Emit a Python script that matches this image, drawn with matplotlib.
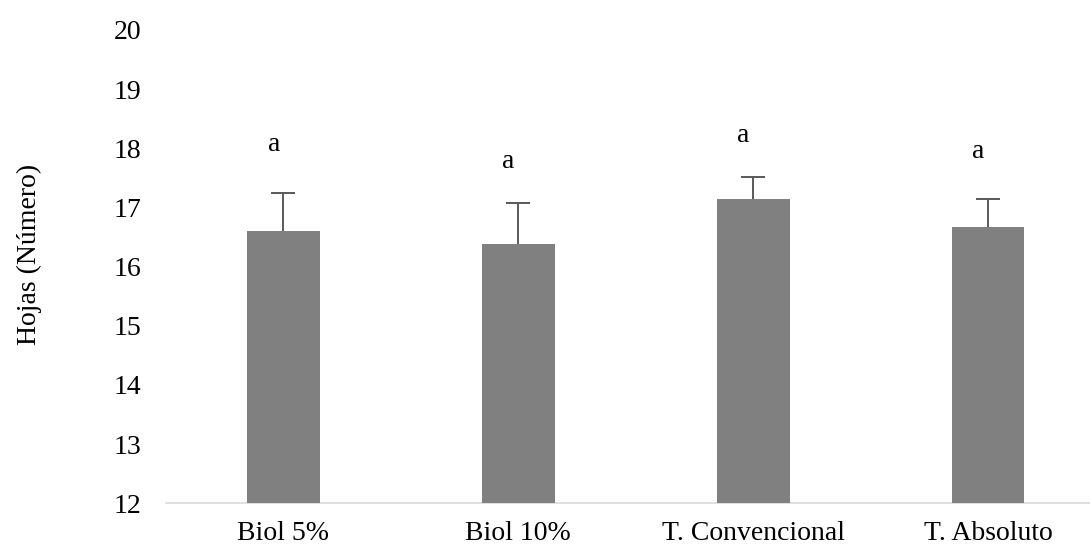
import matplotlib.pyplot as plt
import numpy as np

# Número de hojas por tratamiento
tratamientos = ["Biol 5%", "Biol 10%", "T. Convencional", "T. Absoluto"]
hojas = [16.60, 16.38, 17.15, 16.67]
error = [0.65, 0.69, 0.37, 0.47]
letras = ["a", "a", "a", "a"]
altura_letras = [17.95, 17.66, 18.11, 17.83]

plt.rcParams['font.family'] = ['Liberation Serif', 'DejaVu Serif']

fig = plt.figure(figsize=(10.9, 5.48), dpi=100)
ax = fig.add_axes([0.1523, 0.0816, 0.8477, 0.8637])

x = np.arange(len(tratamientos))
ax.bar(x, hojas, width=0.31, color="#808080", zorder=3)
# barras de error solo hacia arriba
eb = ax.errorbar(x, hojas, yerr=[np.zeros(len(error)), error], fmt='none',
                 ecolor="#595959", elinewidth=1.4, capsize=8.6, capthick=1.4, zorder=2)
for cap in eb[1]:
    if np.allclose(cap.get_ydata(), hojas):
        cap.set_visible(False)

for xi, txt, yl in zip(x, letras, altura_letras):
    ax.annotate(txt, (xi, yl), xytext=(-7, 0), textcoords='offset points',
                ha='center', va='baseline', fontsize=20)

ax.set_ylim(12, 20)
ax.set_yticks(range(12, 21))
ax.set_xlim(-0.5, 3.434)
ax.set_xticks(x)
ax.set_xticklabels(tratamientos)
ax.tick_params(axis='both', length=0, labelsize=20)
ax.tick_params(axis='y', pad=17.5)
ax.tick_params(axis='x', pad=12.5)
ax.set_ylabel("Hojas (Número)", fontsize=20, labelpad=52, y=0.525)

for side in ['top', 'right', 'left']:
    ax.spines[side].set_visible(False)
ax.spines['bottom'].set_color("#d9d9d9")
ax.spines['bottom'].set_linewidth(1.2)

plt.savefig("out.png", dpi=100)
